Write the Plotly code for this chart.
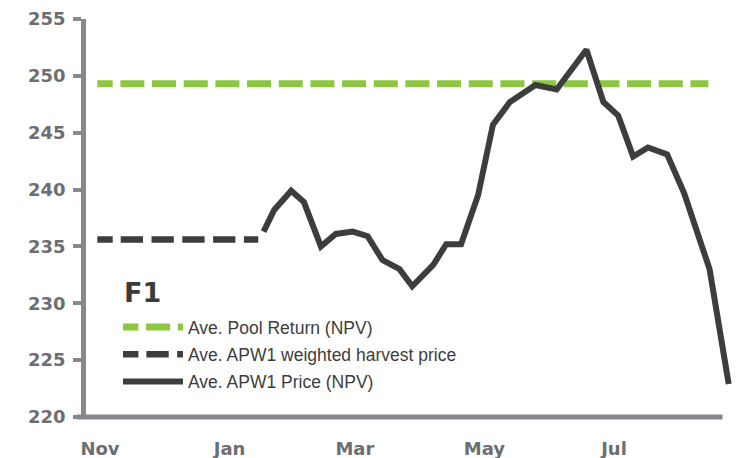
import plotly.graph_objects as go
from datetime import datetime, timedelta

# ---- data ----
price_dates = ["2021-01-17", "2021-01-22", "2021-01-30", "2021-02-05", "2021-02-13",
               "2021-02-20", "2021-02-28", "2021-03-07", "2021-03-14", "2021-03-22",
               "2021-03-28", "2021-04-07", "2021-04-13", "2021-04-20", "2021-04-28",
               "2021-05-05", "2021-05-13", "2021-05-25", "2021-06-04", "2021-06-18",
               "2021-06-26", "2021-07-03", "2021-07-10", "2021-07-17", "2021-07-26",
               "2021-08-03", "2021-08-15", "2021-08-24"]
price_values = [236.3, 238.2, 239.9, 238.9, 235.0, 236.1, 236.3, 235.9, 233.8, 233.0,
                231.5, 233.4, 235.2, 235.2, 239.5, 245.7, 247.7, 249.2, 248.8, 252.3,
                247.7, 246.5, 242.9, 243.7, 243.1, 239.7, 233.0, 222.9]

pool_dates = ["2020-10-30 17:30", "2021-08-14 10:00"]
pool_values = [249.3, 249.3]

harvest_dates = ["2020-10-30 17:30", "2021-01-14 12:00"]
harvest_values = [235.6, 235.6]

tick_dates = ["2020-11-01", "2021-01-01", "2021-03-01", "2021-05-01", "2021-07-01"]
tick_labels = ["Nov", "Jan", "Mar", "May", "Jul"]

names = ["Ave. Pool Return (NPV)", "Ave. APW1 weighted harvest price", "Ave. APW1 Price (NPV)"]
legend_title = "F1"

# ---- style ----
OFF = 8  # page body margin
W, H = 743 - OFF, 458 - OFF
# target pixel positions in the window, converted to figure coords
L, R, T, B = 86 - OFF, 736 - OFF, 19 - OFF, 417 - OFF
GREEN = "#8dc63f"
DARK = "#3c3e3d"
AXIS = "#87888b"
TICKTXT = "#6d6e71"

# dash patterns (first dash is cut short, as in the original)
green_dash = ",".join(["15.4px", "7.7px"] + ["24px", "7.67px"] * 18 + ["40px", "10px"])
dark_dash = ",".join(["15.4px", "8px"] + ["22.3px", "8.5px"] * 4 + ["30px", "10px"])

# x pixel calibration (window px): Nov 1 at px 100, 2.124 px per day
origin = datetime(2020, 11, 1)
px0, ppd = 100.0 - OFF, 2.124
x_lo = origin + timedelta(days=(L - px0) / ppd)
x_hi = origin + timedelta(days=(R - px0) / ppd)


def fx(px):
    return (px - OFF - L) / (R - L)


def fy(py):
    return (B - (py - OFF)) / (B - T)


fig = go.Figure()
fig.add_trace(go.Scatter(x=pool_dates, y=pool_values, mode="lines", name=names[0],
                         line=dict(color=GREEN, width=7, dash=green_dash),
                         legendgroup="a"))
fig.add_trace(go.Scatter(x=harvest_dates, y=harvest_values, mode="lines", name=names[1],
                         line=dict(color=DARK, width=6.5, dash=dark_dash),
                         legendgroup="b"))
fig.add_trace(go.Scatter(x=price_dates, y=price_values, mode="lines", name=names[2],
                         line=dict(color=DARK, width=6),
                         legendgroup="c"))

fig.update_layout(
    width=W, height=H,
    margin=dict(l=L, r=W - R, t=T, b=H - B, pad=0, autoexpand=False),
    paper_bgcolor="white", plot_bgcolor="white",
    showlegend=True,
    legend=dict(x=fx(118), y=fy(309), xanchor="left", yanchor="top",
                bgcolor="rgba(0,0,0,0)", font=dict(family="Liberation Sans", size=17.5, color="#3d3d3d"),
                itemwidth=60, tracegroupgap=1.5),
    xaxis=dict(type="date", range=[x_lo, x_hi], tickvals=tick_dates, ticktext=tick_labels,
               showgrid=False, zeroline=False, showline=False, ticks="",
               ticklabelstandoff=19, automargin=False,
               tickfont=dict(family="DejaVu Sans", size=18, color=TICKTXT, weight="bold")),
    yaxis=dict(range=[220, 255], dtick=5, showgrid=False, zeroline=False,
               showline=True, linecolor=AXIS, linewidth=4.5,
               ticks="outside", ticklen=8, tickwidth=4, tickcolor=AXIS,
               ticklabelstandoff=4, automargin=False,
               tickfont=dict(family="DejaVu Sans", size=18, color=TICKTXT, weight="bold")),
    shapes=[dict(type="line", xref="paper", yref="paper",
                 x0=fx(77), x1=fx(722.5), y0=0, y1=0,
                 line=dict(color=AXIS, width=5), layer="above")],
    annotations=[dict(text=legend_title, xref="paper", yref="paper",
                      x=fx(122), y=fy(292), xanchor="left", yanchor="middle",
                      showarrow=False,
                      font=dict(family="DejaVu Sans", size=27, color="#3a3b3c", weight="bold"))],
)

fig.write_html("out.html")
